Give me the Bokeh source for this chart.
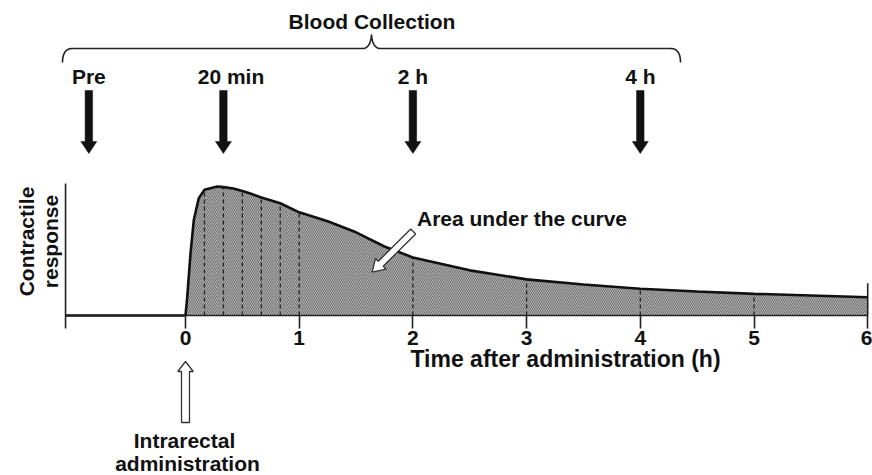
import numpy as np
from bokeh.plotting import figure
from bokeh.models import Range1d, LinearAxis, FixedTicker
from bokeh.core.properties import value
from bokeh.embed import file_html
from bokeh.resources import INLINE

# ---------------- data ----------------
# contractile response (relative units) vs time after administration (h)
curve_time = [-1.055, 0.0, 0.015, 0.044, 0.073, 0.117, 1/6, 0.28, 1/3, 0.42, 0.5, 0.57,
              2/3, 5/6, 1.0, 1.25, 1.5, 1.75, 2.0, 2.5, 3.0, 3.5, 4.0, 4.5, 5.0, 5.5, 6.0]
curve_resp = [0.0, 0.0, 0.14, 0.48, 0.74, 0.91, 0.975, 1.0, 0.995, 0.985, 0.965, 0.945,
              0.915, 0.87, 0.80, 0.73, 0.645, 0.535, 0.45, 0.35, 0.28, 0.24, 0.207, 0.186,
              0.168, 0.155, 0.142]
dash_times = [1/6, 1/3, 0.5, 2/3, 5/6, 1.0, 2.0, 3.0, 4.0, 5.0]
x_ticks = [0, 1, 2, 3, 4, 5, 6]
collect_times = [-0.85, 1/3, 2.0, 4.0]
collect_labels = ["Pre", "20 min", "2 h", "4 h"]
collect_label_x = [-0.85, 0.40, 2.0, 4.0]

FONT = value("Liberation Sans")
PX, PY = 113.7, 129.0          # pixels per hour / per response unit
W, H = 872, 475
x0 = -185 / PX
y1 = 315 / PY

def ref(X, Y):
    """convert a reference-picture pixel position into data units"""
    return (np.asarray(X) - 185) / PX, (315 - np.asarray(Y)) / PY

p = figure(width=W, height=H, output_backend="svg", toolbar_location=None,
           x_range=Range1d(x0, x0 + W / PX), y_range=Range1d(y1 - H / PY, y1),
           x_axis_location=None, y_axis_location=None, min_border=0)
p.outline_line_color = None
p.background_fill_color = "white"
p.border_fill_color = "white"
for g in p.grid:
    g.visible = False

# hatched area under the curve
t_arr = np.array(curve_time)
r_arr = np.array(curve_resp)
m = t_arr >= 0
p.varea(x=t_arr[m], y1=0, y2=r_arr[m], fill_color="#d4d4d4",
        hatch_pattern="\\", hatch_scale=3.6, hatch_weight=0.9, hatch_color="#4a4a4a")

# dashed sampling lines
lookup = dict(zip(curve_time, curve_resp))
p.segment(x0=dash_times, y0=[0] * len(dash_times), x1=dash_times,
          y1=[lookup[t] for t in dash_times], line_dash="4 3", line_width=1.3, line_color="#222222")
# right end line
p.segment(x0=[6.0], y0=[0.0], x1=[6.0], y1=[0.25], line_width=1.6, line_color="#222222")

# curve
p.line(curve_time, curve_resp, line_width=2.6, line_color="#111111")

# y axis line (no ticks)
p.segment(x0=[-1.055], y0=[-0.10], x1=[-1.055], y1=[1.023], line_width=1.6, line_color="#222222")

# x axis
xa = LinearAxis(fixed_location=0, bounds=(-1.055, 6.0), ticker=FixedTicker(ticks=x_ticks))
xa.axis_line_width = 1.6
xa.axis_line_color = "#222222"
xa.major_tick_line_width = 1.6
xa.major_tick_line_color = "#222222"
xa.major_tick_out = 13
xa.major_tick_in = 0
xa.minor_tick_out = 0
xa.minor_tick_in = 0
xa.major_label_standoff = 2
xa.major_label_text_font = "Liberation Sans"
xa.major_label_text_font_style = "bold"
xa.major_label_text_font_size = "21px"
xa.major_label_text_color = "#111111"
p.add_layout(xa, "below")

def txt(x, y, s, align="center", angle=0.0, size="21px"):
    p.text(x=[float(x)], y=[float(y)], text=[s], text_font=FONT, text_font_style="bold",
           text_font_size=size, text_align=align, text_baseline="middle",
           text_color="#111111", angle=angle)

# axis titles (positions = visual centres in the reference picture)
tx, ty = ref(565, 358)
txt(tx, ty, "Time after administration (h)", size="23px")
cx, cy = ref(26, 241)
txt(cx, cy, "Contractile", angle=np.pi / 2)
cx2, _ = ref(50, 241)
txt(cx2, cy, "response", angle=np.pi / 2)

# arrow polygon helper (sizes in pixels)
def arrow_poly(tail, tip, sw, hw, hl):
    dx = (tip[0] - tail[0]) * PX
    dy = (tip[1] - tail[1]) * PY
    L = np.hypot(dx, dy)
    ux, uy = dx / L, dy / L
    nx, ny = -uy, ux
    b = L - hl
    pts = [(nx * sw / 2, ny * sw / 2),
           (ux * b + nx * sw / 2, uy * b + ny * sw / 2),
           (ux * b + nx * hw / 2, uy * b + ny * hw / 2),
           (ux * L, uy * L),
           (ux * b - nx * hw / 2, uy * b - ny * hw / 2),
           (ux * b - nx * sw / 2, uy * b - ny * sw / 2),
           (-nx * sw / 2, -ny * sw / 2)]
    xs = [float(tail[0] + a / PX) for a, _ in pts]
    ys = [float(tail[1] + c / PY) for _, c in pts]
    return xs, ys

# blood collection arrows
_, top_r = ref(0, 90)
_, tip_r = ref(0, 153)
bx, by = [], []
for t in collect_times:
    xs, ys = arrow_poly((t, top_r), (t, tip_r), 7.5, 16, 12)
    bx.append(xs)
    by.append(ys)
p.patches(bx, by, fill_color="#111111", line_color="#111111", line_width=0.5)

_, lab_r = ref(0, 76)
p.text(x=collect_label_x, y=[float(lab_r)] * 4, text=collect_labels, text_font=FONT,
       text_font_style="bold", text_font_size="21px", text_align="center",
       text_baseline="middle", text_color="#111111")

# brace
def qbez(a, c, b, n=14):
    s = np.linspace(0, 1, n)
    return ((1 - s) ** 2 * a[0] + 2 * (1 - s) * s * c[0] + s ** 2 * b[0],
            (1 - s) ** 2 * a[1] + 2 * (1 - s) * s * c[1] + s ** 2 * b[1])

segs = [qbez((62, 62), (62, 48), (72, 48)),
        qbez((72, 48), (217, 48), (362, 48), 2),
        qbez((362, 48), (370, 48), (371, 34)),
        qbez((371, 34), (372, 48), (380, 48)),
        qbez((380, 48), (525, 48), (670, 48), 2),
        qbez((670, 48), (680, 48), (680, 62))]
BX = np.concatenate([s[0] for s in segs])
BY = np.concatenate([s[1] for s in segs])
brx, bry = ref(BX, BY)
p.line(brx, bry, line_width=1.6, line_color="#222222")
bcx, bcy = ref(371.5, 21)
txt(bcx, bcy, "Blood Collection")

# area-under-curve label and hollow arrow
ax_, ay_ = ref(521.5, 218)
txt(ax_, ay_, "Area under the curve")
xs, ys = arrow_poly(ref(412.7, 231), ref(371.7, 271.7), 7, 15, 12)
p.patch(xs, ys, fill_color="white", line_color="#333333", line_width=1.3)

# intrarectal administration arrow
xs, ys = arrow_poly(ref(185, 422), ref(185, 361), 8, 15.5, 10)
p.patch(xs, ys, fill_color="white", line_color="#333333", line_width=1.3)
ix, iy = ref(184, 440)
txt(ix, iy, "Intrarectal")
ix2, iy2 = ref(187, 463)
txt(ix2, iy2, "administration")

open("out.html", "w").write(file_html(p, INLINE))
